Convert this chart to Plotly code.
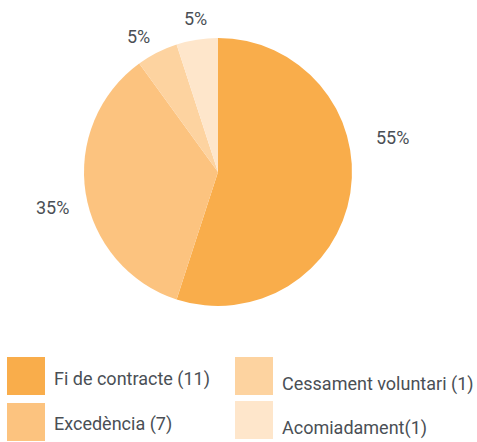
import math
import plotly.graph_objects as go

# ---- data ----
categories = ["Fi de contracte", "Excedència", "Cessament voluntari", "Acomiadament"]
values = [11, 7, 1, 1]
legend_labels = ["Fi de contracte (11)", "Excedència (7)", "Cessament voluntari (1)", "Acomiadament(1)"]

# ---- style ----
colors = ["#F9AD4B", "#FCC37F", "#FDD3A0", "#FEE6CB"]
TEXT_COLOR = "#4a4f55"
FONT = "Roboto"
FS = 18
W, H = 477, 442
CX, CY, R = 218, 172, 134           # pie centre / radius in pixels
# per-slice label nudges: (angle shift in degrees, distance beyond the rim in px)
LABEL_NUDGE = [(-20.2, 44), (-3.1, 35), (-3.3, 23.5), (0.8, 21)]

def px(x):
    return x / W

def py(y):
    return 1 - y / H

fig = go.Figure(go.Pie(
    labels=categories,
    values=values,
    sort=False,
    direction="clockwise",
    rotation=0,
    marker=dict(colors=colors, line=dict(width=0)),
    textinfo="none",
    hoverinfo="label+value+percent",
    showlegend=False,
    domain=dict(x=[px(CX - R), px(CX + R)], y=[py(CY + R), py(CY - R)]),
))

annotations = []
total = sum(values)
cum = 0
for i, v in enumerate(values):
    mid = (cum + v / 2) / total * 360
    cum += v
    dang, dist = LABEL_NUDGE[i]
    a = math.radians(mid + dang)
    r = R + dist
    x = CX + r * math.sin(a)
    y = CY - r * math.cos(a)
    annotations.append(dict(
        x=px(x), y=py(y), xref="paper", yref="paper",
        text=f"{round(v / total * 100)}%", showarrow=False,
        xanchor="center", yanchor="middle",
        font=dict(family=FONT, size=FS, color=TEXT_COLOR),
    ))

# custom legend (2 columns, large square swatches)
shapes = []
LEG_COLS_X = [7, 235]
LEG_ROWS_Y = [[357, 403], [357, 401]]
LEG_TEXT_DY = [[22, 21], [27, 27]]
SW = 38
for i, lab in enumerate(legend_labels):
    col = i // 2
    row = i % 2
    x0 = LEG_COLS_X[col]
    y0 = LEG_ROWS_Y[col][row]
    shapes.append(dict(
        type="rect", xref="paper", yref="paper",
        x0=px(x0), x1=px(x0 + SW), y0=py(y0 + SW), y1=py(y0),
        fillcolor=colors[i], line=dict(width=0), layer="above",
    ))
    annotations.append(dict(
        x=px(x0 + SW + 7), y=py(y0 + LEG_TEXT_DY[col][row]), xref="paper", yref="paper",
        text=lab, showarrow=False, xanchor="left", yanchor="middle",
        font=dict(family=FONT, size=FS, color=TEXT_COLOR),
    ))

fig.update_layout(
    width=W, height=H,
    margin=dict(l=0, r=0, t=0, b=0),
    paper_bgcolor="white",
    plot_bgcolor="white",
    annotations=annotations,
    shapes=shapes,
    font=dict(family=FONT),
)

fig.write_html(
    "out.html",
    config={"displayModeBar": False},
    post_script="document.body.style.margin='0';document.body.style.overflow='hidden';",
)
